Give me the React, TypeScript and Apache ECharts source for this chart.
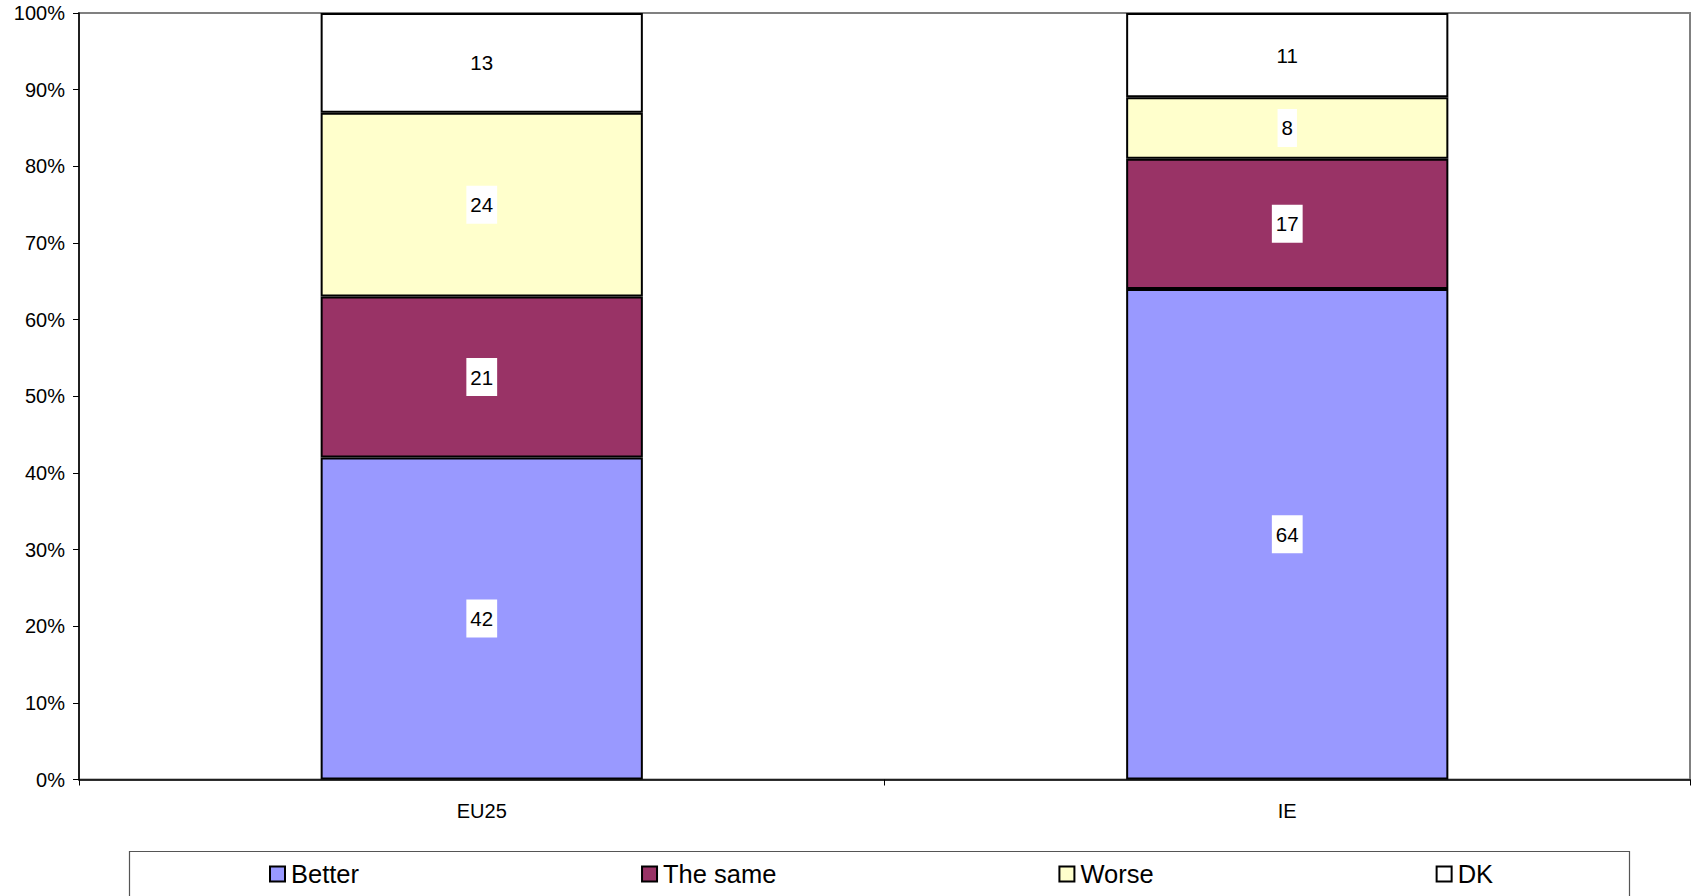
import React, { useEffect, useRef } from "react";
import * as echarts from "echarts";

const categories = ["EU25", "IE"];
const better = [42, 64];
const theSame = [21, 17];
const worse = [24, 8];
const dk = [13, 11];
const seriesNames = ["Better", "The same", "Worse", "DK"];
const seriesColors = ["#9999FF", "#993366", "#FFFFCC", "#FFFFFF"];

export default function App() {
  const ref = useRef<HTMLDivElement>(null);
  useEffect(() => {
    if (!ref.current) return;
    const chart = echarts.init(ref.current, null, { renderer: "svg" });
    const font = "Arial, 'Liberation Sans', sans-serif";
    const data = [better, theSame, worse, dk];
    chart.setOption({
      animation: false,
      textStyle: { fontFamily: font },
      grid: {
        left: 79,
        right: 3,
        top: 13,
        bottom: 116.5,
        containLabel: false,
        show: true,
        borderColor: "#808080",
        borderWidth: 2,
        backgroundColor: "#ffffff",
      },
      legend: {
        left: 269,
        top: 861,
        padding: 0,
        itemGap: 282,
        itemWidth: 15,
        itemHeight: 15,
        icon: "rect",
        data: seriesNames,
        textStyle: { fontSize: 25.5, lineHeight: 26, color: "#000", fontFamily: font, padding: [0, 0, 0, 1] },
        itemStyle: { borderColor: "#000", borderWidth: 2 },
        selectedMode: false,
      },
      graphic: [
        {
          type: "polyline",
          shape: { points: [[129.5, 900], [129.5, 851.5], [1629.5, 851.5], [1629.5, 900]] },
          style: { fill: "none", stroke: "#555555", lineWidth: 1.2 },
          z: 0,
        },
      ],
      xAxis: {
        type: "category",
        data: categories,
        axisLine: { lineStyle: { color: "#000", width: 1.5 } },
        axisTick: { show: true, inside: false, length: 6, lineStyle: { color: "#000" } },
        axisLabel: { fontSize: 20, color: "#000", margin: 21, fontFamily: font },
        splitLine: { show: false },
      },
      yAxis: {
        type: "value",
        min: 0,
        max: 100,
        interval: 10,
        axisLine: { show: true, lineStyle: { color: "#000", width: 1.5 } },
        axisTick: { show: true, inside: false, length: 6, lineStyle: { color: "#000" } },
        axisLabel: { fontSize: 20, color: "#000", margin: 14, formatter: "{value}%", fontFamily: font },
        splitLine: { show: false },
      },
      series: seriesNames.map((name, i) => ({
        name,
        type: "bar",
        stack: "total",
        barWidth: "40%",
        data: data[i],
        itemStyle: { color: seriesColors[i], borderColor: "#000", borderWidth: 2 },
        label: {
          show: true,
          position: "inside",
          color: "#000",
          fontSize: 20.5,
          fontFamily: font,
          backgroundColor: "#ffffff",
          padding: [8, 4],
          lineHeight: 22,
        },
      })),
    });
    return () => chart.dispose();
  }, []);
  return (
    <div
      ref={ref}
      style={{ position: "fixed", left: 0, top: 0, width: 1693, height: 896, background: "#fff" }}
    />
  );
}
